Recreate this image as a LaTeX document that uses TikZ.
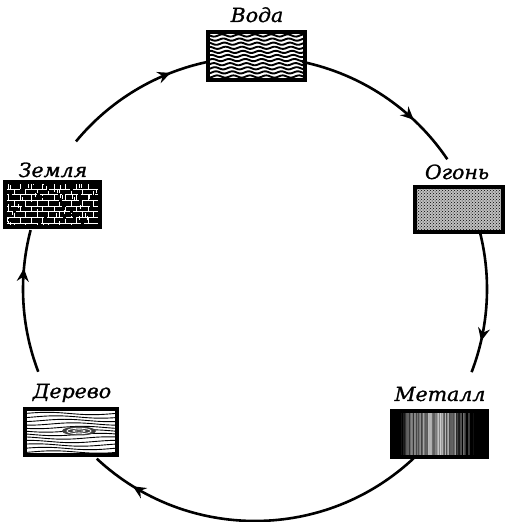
\documentclass[tikz,border=0pt]{standalone}
\usepackage{fontspec}
\newfontfamily\labfont[FakeStretch=1.05,FakeBold=1.2]{DejaVu Serif}
\usetikzlibrary{arrows.meta,decorations.markings,patterns}
\begin{document}
\begin{tikzpicture}[x=1pt,y=1pt,
  lab/.style={font=\labfont\itshape\fontsize{19.5}{21}\selectfont, anchor=base, inner sep=0pt},
  box/.style={draw=black, line width=3.4pt, fill=white, inner sep=0pt, minimum width=#1},
  conn/.style={line width=2.6pt},
  arrowat/.style={decoration={markings, mark=at position #1 with {\arrow{Stealth[length=13pt,width=12pt,inset=4.5pt]}}}, postaction=decorate}
]
\useasboundingbox (0,0) rectangle (511,522);
\coordinate (c) at (255,233);

% boxes
\node[box=97pt, minimum height=48pt, path picture={
  \begin{scope}[shift={(path picture bounding box.center)}]
    \foreach \k in {-6,...,6}
      \draw[line width=1.9pt] plot[domain=-52:52, samples=70, smooth] (\x,{\k*4.1 + 1.1*sin(22*\x+25*\k)});
  \end{scope}}] (voda) at (256.5,466) {};

\node[box=88pt, minimum height=45pt, fill=black!25, path picture={
  \fill[pattern=crosshatch dots, pattern color=black] (path picture bounding box.south west) rectangle (path picture bounding box.north east);}] (ogon) at (459,312.5) {};

\node[box=95pt, minimum height=46pt, path picture={
  \begin{scope}[shift={(path picture bounding box.center)}]
    \pgfmathsetseed{7}
    \foreach \x in {-48,-47,...,48} {
      \pgfmathsetmacro\g{min(100,max(0,40 + 60*((\x+4)/34)^2 + 50*rnd - 25))}
      \draw[black!\g, line width=1.05pt] (\x,-24) -- (\x,24);
    }
  \end{scope}}] (metall) at (439.5,88) {};

\node[box=92pt, minimum height=46pt, path picture={
  \begin{scope}[shift={(path picture bounding box.center)}]
    \foreach \k in {-20,-16.5,...,21}
      \draw[line width=0.9pt] plot[domain=-48:48, samples=40, smooth] (\x,{\k + 1.2*sin(4*\x+10*\k)});
    \fill[black!75] (8,1) ellipse[x radius=17pt, y radius=4.5pt];
    \draw[white, line width=0.8pt] (8,1) ellipse[x radius=12pt, y radius=2.8pt];
    \draw[white, line width=0.7pt] (8,1) ellipse[x radius=6pt, y radius=1.2pt];
  \end{scope}}] (derevo) at (71,90) {};

\node[box=95pt, minimum height=45pt, fill=black, path picture={
  \fill[pattern=bricks, pattern color=white] (path picture bounding box.south west) rectangle (path picture bounding box.north east);
  \begin{scope}[shift={(path picture bounding box.center)}]
    \pgfmathsetseed{3}
    \foreach \i in {1,...,60} {
      \pgfmathsetmacro\px{96*rnd-48}
      \pgfmathsetmacro\py{46*rnd-23}
      \fill[black] (\px,\py) rectangle ++(3,2);
    }
    \foreach \i in {1,...,40} {
      \pgfmathsetmacro\px{96*rnd-48}
      \pgfmathsetmacro\py{46*rnd-23}
      \draw[white, line width=0.6pt] (\px,\py) -- ++(0,4);
    }
  \end{scope}}] (zemlya) at (52.5,317.5) {};

% labels
\node[lab] (lvoda) at (257,500) {Вода};
\node[lab] (logon) at (457,343) {Огонь};
\node[lab] (lmetall) at (440,121) {Металл};
\node[lab] (lderevo) at (72,124) {Дерево};
\node[lab] (lzemlya) at (53,345) {Земля};

% circle connectors
\coordinate (zT) at ([shift={(140.5:232)}]c);
\coordinate (vL) at ([shift={(101.6:232)}]c);
\coordinate (vR) at ([shift={(78.3:232)}]c);
\coordinate (oT) at ([shift={(34:232)}]c);
\coordinate (oB) at ([shift={(14:232)}]c);
\coordinate (mT) at ([shift={(-21:232)}]c);
\coordinate (mB) at ([shift={(-46.4:232)}]c);
\coordinate (dB) at ([shift={(-133:232)}]c);
\coordinate (dT) at ([shift={(200.9:232)}]c);
\coordinate (zB) at ([shift={(165.3:232)}]c);

\draw[conn, arrowat=0.75] (zT) arc[start angle=140.5, end angle=101.6, radius=232pt];
\draw[conn, arrowat=0.71] (vR) arc[start angle=78.3, end angle=34, radius=232pt];
\draw[conn, arrowat=0.77] (oB) arc[start angle=14, end angle=-21, radius=232pt];
\draw[conn, arrowat=0.87] (mB) arc[start angle=-46.4, end angle=-133, radius=232pt];
\draw[conn, arrowat=0.73] (dT) arc[start angle=200.9, end angle=165.3, radius=232pt];
\end{tikzpicture}
\end{document}
